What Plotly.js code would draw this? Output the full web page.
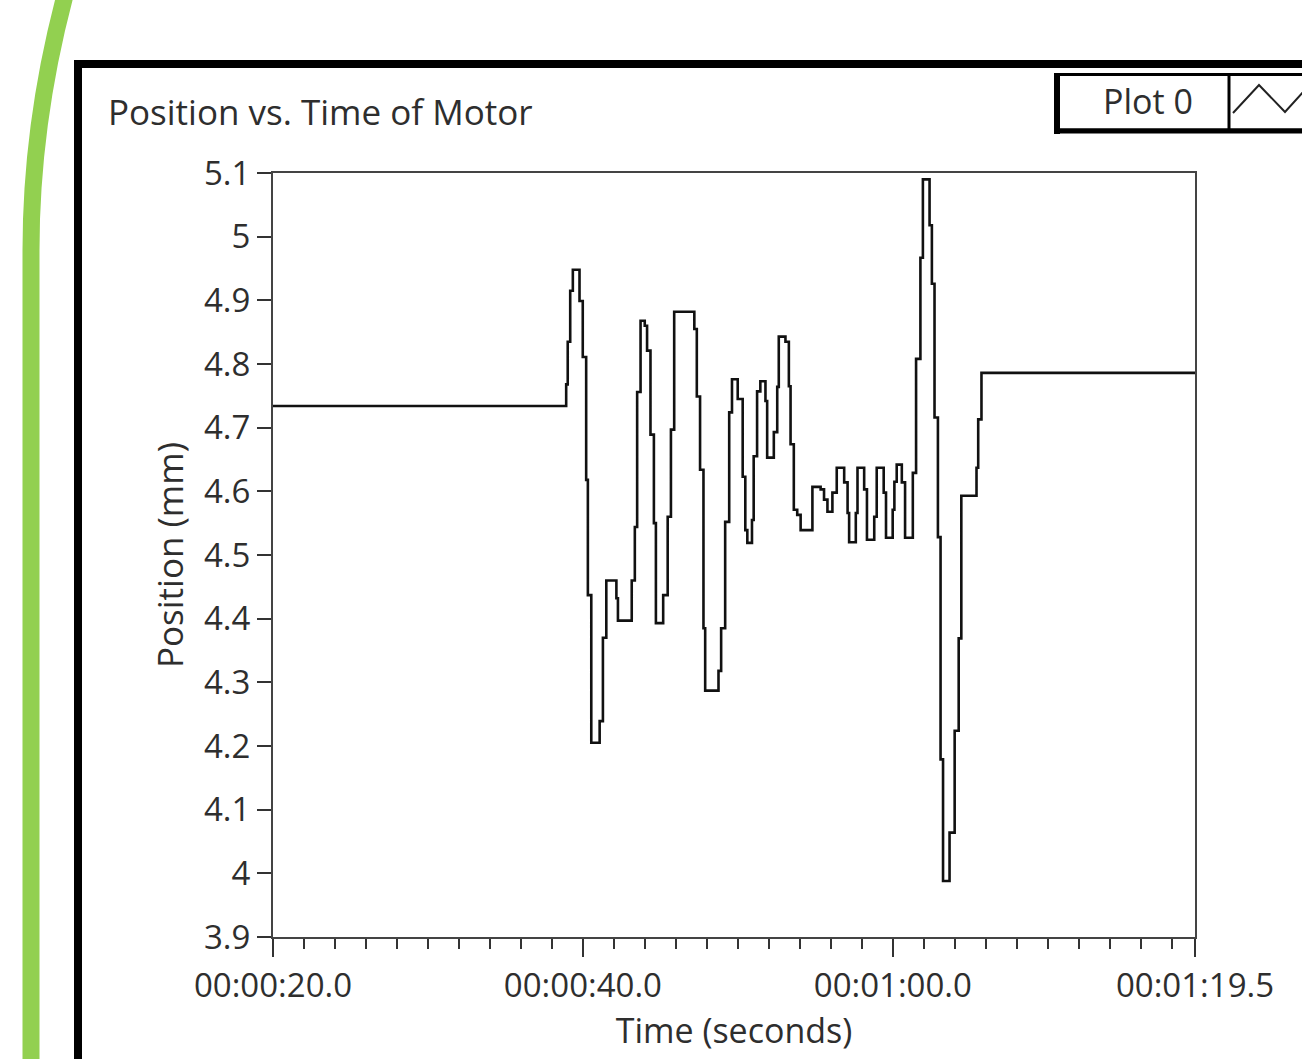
<!DOCTYPE html>
<html>
<head>
<meta charset="utf-8">
<script src="https://cdn.plot.ly/plotly-3.0.1.min.js"></script>
<style>
html,body{margin:0;padding:0;background:#fff;}
#chart{width:1302px;height:1059px;}
</style>
</head>
<body>
<div id="chart"></div>
<script>
// ---- data (time in seconds, position in mm) ----
const timeSec = [20.00, 38.92, 39.02, 39.18, 39.35, 39.78, 39.99, 40.21, 40.32, 40.54,
  41.08, 41.29, 41.51, 42.16, 42.26, 43.15, 43.35, 43.50, 43.72, 43.99,
  44.14, 44.36, 44.58, 44.71, 45.18, 45.47, 45.68, 45.89, 47.19, 47.35,
  47.56, 47.78, 47.89, 48.75, 48.92, 49.18, 49.44, 49.62, 49.99, 50.31,
  50.48, 50.61, 50.91, 51.02, 51.24, 51.45, 51.78, 51.89, 52.32, 52.54,
  52.64, 53.07, 53.29, 53.40, 53.61, 53.83, 54.05, 54.81, 55.34, 55.56,
  55.78, 56.10, 56.38, 56.86, 57.08, 57.18, 57.61, 57.72, 58.15, 58.33,
  58.80, 58.96, 59.41, 59.56, 59.99, 60.10, 60.25, 60.58, 60.79, 61.29,
  61.50, 61.78, 61.94, 62.37, 62.52, 62.69, 62.91, 63.08, 63.24, 63.66,
  63.99, 64.25, 64.42, 65.40, 65.51, 65.72, 79.5];
const positionMm = [4.734, 4.768, 4.835, 4.915, 4.948, 4.899, 4.811, 4.618, 4.437, 4.205,
  4.239, 4.370, 4.460, 4.432, 4.397, 4.460, 4.544, 4.756, 4.868, 4.860,
  4.821, 4.689, 4.550, 4.393, 4.437, 4.560, 4.697, 4.882, 4.855, 4.749,
  4.634, 4.385, 4.287, 4.318, 4.385, 4.552, 4.724, 4.776, 4.745, 4.623,
  4.539, 4.519, 4.555, 4.655, 4.757, 4.773, 4.742, 4.653, 4.693, 4.764,
  4.843, 4.835, 4.765, 4.674, 4.571, 4.563, 4.539, 4.607, 4.603, 4.587,
  4.568, 4.598, 4.637, 4.614, 4.566, 4.520, 4.566, 4.637, 4.603, 4.524,
  4.560, 4.637, 4.598, 4.527, 4.571, 4.615, 4.642, 4.614, 4.527, 4.629,
  4.808, 4.967, 5.090, 5.018, 4.926, 4.716, 4.528, 4.179, 3.988, 4.064,
  4.224, 4.369, 4.593, 4.637, 4.713, 4.786, 4.786];
const xTickVals = [20, 40, 60, 79.5];
const xTickText = ['00:00:20.0', '00:00:40.0', '00:01:00.0', '00:01:19.5'];
const seriesName = 'Plot 0';
const chartTitle = 'Position vs. Time of Motor';
const xTitle = 'Time (seconds)';
const yTitle = 'Position (mm)';

// ---- layout geometry ----
const W = 1302, H = 1059;
const M = {l: 273, r: 107, t: 173, b: 122};
const PW = W - M.l - M.r, PH = H - M.t - M.b;
const px = x => (x - M.l) / PW;          // pixel -> paper x
const py = y => (H - M.b - y) / PH;      // pixel -> paper y
const FONT = '"Open Sans", "Noto Sans", sans-serif';
const TXT = '#2e2e2e';

const shapes = [
  // green decorative arc
  {type: 'path', xref: 'paper', yref: 'paper', layer: 'above',
   path: `M ${px(67)},${py(-12)} Q ${px(31)},${py(120)} ${px(31)},${py(250)} L ${px(31)},${py(1075)}`,
   line: {color: '#92D050', width: 17}},
  // black frame
  {type: 'rect', xref: 'paper', yref: 'paper', x0: px(78), y0: py(64), x1: px(1330), y1: py(1090),
   line: {color: '#000', width: 8}},
  // legend box
  {type: 'rect', xref: 'paper', yref: 'paper', x0: px(1057), y0: py(74.5), x1: px(1330), y1: py(130),
   line: {color: '#000', width: 3}},
  {type: 'line', xref: 'paper', yref: 'paper', x0: px(1057), y0: py(73), x1: px(1057), y1: py(134),
   line: {color: '#000', width: 6}},
  {type: 'line', xref: 'paper', yref: 'paper', x0: px(1055), y0: py(131), x1: px(1330), y1: py(131),
   line: {color: '#000', width: 5}},
  {type: 'line', xref: 'paper', yref: 'paper', x0: px(1229), y0: py(74), x1: px(1229), y1: py(130),
   line: {color: '#000', width: 3}},
  // legend line icon
  {type: 'path', xref: 'paper', yref: 'paper',
   path: `M ${px(1233)},${py(113)} L ${px(1259)},${py(85)} L ${px(1285)},${py(112)} L ${px(1305)},${py(90)}`,
   line: {color: '#222', width: 2}}
];

const annotations = [
  {text: seriesName, xref: 'paper', yref: 'paper', x: px(1148), y: py(101),
   xanchor: 'center', yanchor: 'middle', showarrow: false,
   font: {family: FONT, size: 34, color: TXT}}
];

const trace = {
  x: timeSec, y: positionMm, type: 'scatter', mode: 'lines', name: seriesName,
  line: {shape: 'hv', color: '#111', width: 2.6}, hoverinfo: 'x+y'
};

const layout = {
  width: W, height: H,
  margin: M,
  paper_bgcolor: '#fff', plot_bgcolor: '#fff',
  showlegend: false,
  title: {text: chartTitle, xref: 'container', yref: 'container',
          x: 108 / W, xanchor: 'left', y: 1 - 113 / H, yanchor: 'middle',
          font: {family: FONT, size: 35, color: TXT}},
  xaxis: {
    range: [20, 79.5], tickmode: 'array', tickvals: xTickVals, ticktext: xTickText,
    ticks: 'outside', ticklen: 18, tickwidth: 2, tickcolor: '#333',
    minor: {ticks: 'outside', tick0: 20, dtick: 2, ticklen: 10, tickwidth: 2, tickcolor: '#333'},
    showgrid: false, zeroline: false,
    showline: true, mirror: true, linecolor: '#444', linewidth: 2,
    tickfont: {family: FONT, size: 33, color: TXT},
    title: {text: xTitle, font: {family: FONT, size: 34, color: TXT}, standoff: 14}
  },
  yaxis: {
    range: [3.9, 5.1], tickmode: 'linear', tick0: 3.9, dtick: 0.1,
    ticks: 'outside', ticklen: 14, tickwidth: 2, tickcolor: '#333',
    showgrid: false, zeroline: false,
    showline: true, mirror: true, linecolor: '#444', linewidth: 2,
    tickfont: {family: FONT, size: 33, color: TXT},
    title: {text: yTitle, font: {family: FONT, size: 35, color: TXT}, standoff: 10}
  },
  shapes: shapes,
  annotations: annotations
};

Plotly.newPlot('chart', [trace], layout, {displayModeBar: false, staticPlot: true});
</script>
</body>
</html>
